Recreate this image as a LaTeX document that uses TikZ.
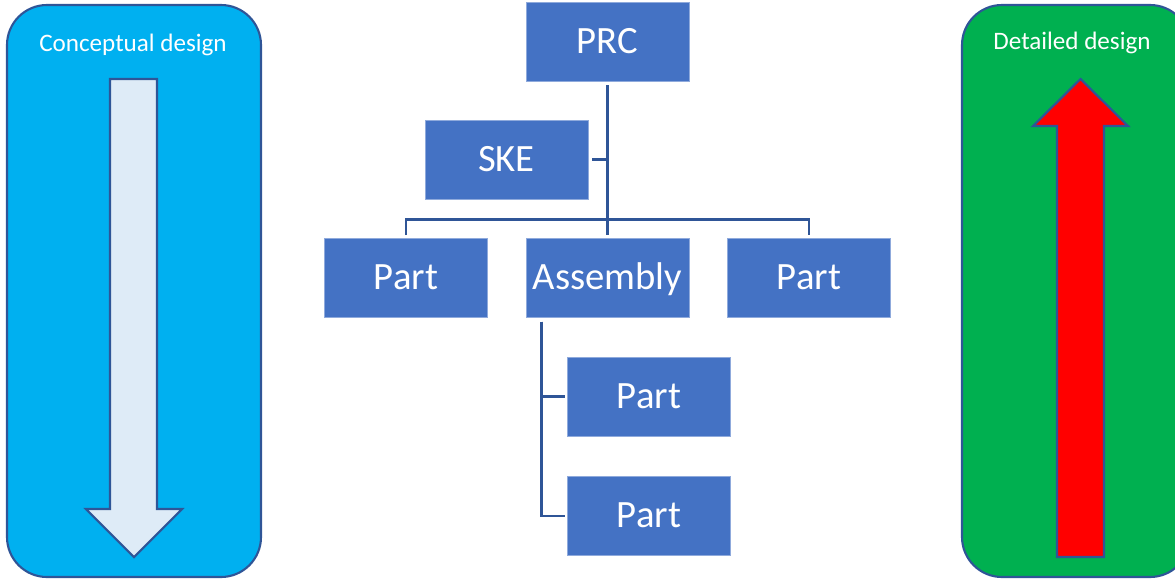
\documentclass[tikz,border=0pt]{standalone}
\usepackage{fontspec}
\setmainfont{Carlito}
\usetikzlibrary{positioning, calc}
\definecolor{panelcyan}{HTML}{00B0F0}
\definecolor{panelgreen}{HTML}{00B050}
\definecolor{edgeblue}{HTML}{2F5597}
\definecolor{boxblue}{HTML}{4472C4}
\definecolor{arrowpale}{HTML}{DEEBF7}

\begin{document}
\begin{tikzpicture}[
    x=0.02cm, y=-0.02cm,
    box/.style={rectangle, fill=boxblue, draw=boxblue!60!white, line width=0.3pt, text=white, minimum width=3.26cm, minimum height=1.58cm, inner sep=0pt, text height=15.5pt, text depth=2pt, font=\fontsize{22}{26}\selectfont},
    panel/.style={draw=edgeblue, line width=1.2pt, rounded corners=0.8cm},
    blockarrow/.style={draw=edgeblue, line width=1.2pt, line join=miter},
    link/.style={draw=edgeblue, line width=1.5pt},
    title/.style={text=white, font=\fontsize{14.3}{17}\selectfont}
]
    \useasboundingbox (0,0) rectangle (1175,579);

    % Konzeptphase
    \draw[panel, fill=panelcyan] (7,5) rectangle (261,577);
    \node[title] (concept) at (133,45) {Conceptual design};
    \draw[blockarrow, fill=arrowpale] (110,79) -- (157,79) -- (157,509) -- (182,509) -- (134,557) -- (86,509) -- (110,509) -- cycle;

    % Detailphase
    \draw[panel, fill=panelgreen] (962,5) rectangle (1190,577);
    \node[title] (detail) at (1072,43) {Detailed design};
    \draw[blockarrow, fill=red] (1080.5,79) -- (1128,126) -- (1104,126) -- (1104,557) -- (1057,557) -- (1057,126) -- (1033,126) -- cycle;

    % Produktstruktur
    \node[box] (prc) at (607.5,41.5) {PRC};
    \node[box] (ske) at (506.5,159.5) {SKE};
    \node[box, below=3.14cm of prc] (assembly) {Assembly};
    \node[box, left=0.76cm of assembly] (partL) {Part};
    \node[box, right=0.76cm of assembly] (partR) {Part};
    \node[box, below=0.78cm of assembly, xshift=0.83cm] (partA) {Part};
    \node[box, below=0.8cm of partA] (partB) {Part};

    % Verbindungen
    \coordinate (bus) at ($(prc.south)!0.88!(assembly.north)$);
    \draw[link] ([yshift=-0.08cm]prc.south) -- ([yshift=0.06cm]assembly.north);
    \draw[link] ([yshift=0.06cm]partL.north) |- (bus) -| ([yshift=0.06cm]partR.north);
    \draw[link] ([xshift=0.08cm]ske.east) -- (ske.east -| prc.south);
    \coordinate (trunk) at ([xshift=0.32cm, yshift=-0.08cm]assembly.south west);
    \draw[link] (trunk) |- ([xshift=-0.04cm]partA.west);
    \draw[link] (trunk) |- ([xshift=-0.04cm]partB.west);
\end{tikzpicture}
\end{document}
